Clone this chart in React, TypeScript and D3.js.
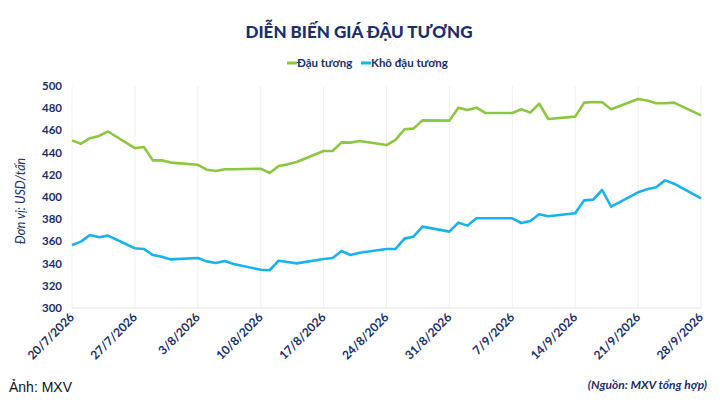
import React from 'react';
import * as d3 from 'd3';

// trading days (dd/m) and prices, USD/tấn
const dates = [
  '20/7', '21/7', '22/7', '23/7', '24/7',
  '27/7', '28/7', '29/7', '30/7', '31/7',
  '3/8', '4/8', '5/8', '6/8', '7/8',
  '10/8', '11/8', '12/8', '13/8', '14/8',
  '17/8', '18/8', '19/8', '20/8', '21/8',
  '24/8', '25/8', '26/8', '27/8', '28/8',
  '31/8', '1/9', '2/9', '3/9', '4/9',
  '7/9', '8/9', '9/9', '10/9', '11/9',
  '14/9', '15/9', '16/9', '17/9', '18/9',
  '21/9', '22/9', '23/9', '24/9', '25/9',
  '28/9',
];

const dauTuong = [
  451, 448, 453, 455, 459,
  444, 445, 433, 433, 431,
  429, 424.6, 423.4, 425, 425,
  425.5, 421.6, 428, 429.4, 431.5,
  441.4, 441.4, 449.2, 449, 450.4,
  446.8, 451.4, 461, 461.6, 469,
  468.8, 480.5, 478.4, 480.5, 475.7,
  475.7, 479, 476, 484, 470.3,
  472.4, 485, 485.6, 485.3, 479,
  488.3, 487, 484.4, 484.4, 485,
  473.6,
];

const khoDauTuong = [
  356.8, 359.8, 365.8, 363.7, 365.2,
  353.8, 353.2, 347.7, 346.2, 343.8,
  345, 342, 340.5, 342.3, 339.6,
  334.5, 334, 342.6, 341.4, 340.2,
  344.1, 345, 351.3, 347.7, 349.8,
  353.2, 353.2, 362.5, 364.3, 373.3,
  368.8, 376.9, 374.2, 380.8, 380.8,
  380.8, 376.6, 378.4, 384.4, 382.6,
  385.3, 397, 397.6, 406.3, 391.3,
  404.2, 406.9, 408.7, 415, 412,
  398.8,
];

const xTicks = ['20/7', '27/7', '3/8', '10/8', '17/8', '24/8', '31/8', '7/9', '14/9', '21/9', '28/9'];
const yTicks = [300, 320, 340, 360, 380, 400, 420, 440, 460, 480, 500];

const GREEN = '#8dc641';
const BLUE = '#19b2ec';
const NAVY = '#1b2f6b';
const FONT = 'Lato, "Open Sans", sans-serif';

const parse = (s: string) => {
  const [d, m] = s.split('/').map(Number);
  return new Date(2026, m - 1, d);
};

const App: React.FC = () => {
  const width = 720;
  const height = 405;
  const m = { left: 72, right: 19, top: 86, bottom: 97 };

  const x = d3.scaleTime()
    .domain([parse('20/7'), parse('28/9')])
    .range([m.left, width - m.right]);
  const y = d3.scaleLinear().domain([300, 500]).range([height - m.bottom, m.top]);

  const line = d3.line<number>()
    .x((_, i) => x(parse(dates[i])))
    .y(d => y(d));

  const series = [
    { name: 'Đậu tương', values: dauTuong, color: GREEN },
    { name: 'Khô đậu tương', values: khoDauTuong, color: BLUE },
  ];

  const bottom = height - m.bottom;

  return (
    <svg width={width} height={height} style={{ position: 'absolute', left: 0, top: 0, background: '#fff' }}>
      <text x={359} y={38} textAnchor="middle" fontFamily={FONT} fontWeight={900} fontSize={17} fill={NAVY}>
        DIỄN BIẾN GIÁ ĐẬU TƯƠNG
      </text>

      {/* legend */}
      <g fontFamily={FONT} fontWeight={700} fontSize={11.5} fill={NAVY}>
        <line x1={287} x2={297} y1={63} y2={63} stroke={GREEN} strokeWidth={3} />
        <text x={297} y={67}>Đậu tương</text>
        <line x1={361} x2={371} y1={63} y2={63} stroke={BLUE} strokeWidth={3} />
        <text x={371} y={67}>Khô đậu tương</text>
      </g>

      {/* vertical grid */}
      {xTicks.map(t => (
        <line key={t} x1={x(parse(t))} x2={x(parse(t))} y1={m.top} y2={bottom} stroke="#ececec" strokeWidth={0.8} />
      ))}
      <line x1={m.left} x2={width - m.right} y1={bottom} y2={bottom} stroke="#e3e3e3" strokeWidth={1} />

      {/* y axis labels */}
      <g fontFamily={FONT} fontWeight={700} fontSize={11.5} fill={NAVY}>
        {yTicks.map(t => (
          <text key={t} x={62} y={y(t) + 4} textAnchor="end">{t}</text>
        ))}
      </g>
      <text
        transform={`translate(25,${(m.top + bottom) / 2 + 4}) rotate(-90)`}
        textAnchor="middle"
        fontFamily={FONT}
        fontStyle="italic"
        fontSize={12.5}
        fill={NAVY}
      >
        Đơn vị: USD/tấn
      </text>

      {/* x axis labels */}
      <g fontFamily={FONT} fontWeight={700} fontSize={12} fill={NAVY}>
        {xTicks.map(t => (
          <text key={t} transform={`translate(${x(parse(t)) + 3},${bottom + 10}) rotate(-45)`} textAnchor="end">
            {t}/2026
          </text>
        ))}
      </g>

      {series.map(s => (
        <path key={s.name} d={line(s.values) || ''} fill="none" stroke={s.color} strokeWidth={2.6} strokeLinejoin="round" />
      ))}

      <text x={9} y={392} fontFamily={'"Liberation Sans", Arial, sans-serif'} fontSize={14} fill="#111">Ảnh: MXV</text>
      <text x={707} y={389} textAnchor="end" fontFamily={FONT} fontStyle="italic" fontWeight={700} fontSize={12} fill={NAVY}>
        (Nguồn: MXV tổng hợp)
      </text>
    </svg>
  );
};

export default App;
